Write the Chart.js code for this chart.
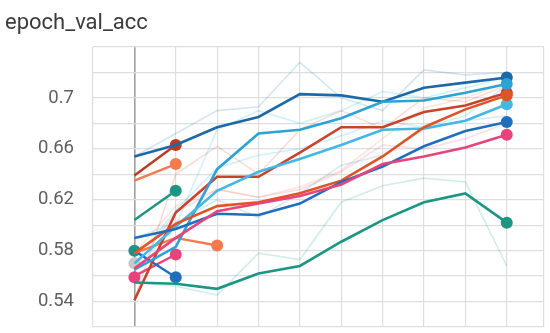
<!DOCTYPE html>
<html>
<head>
<meta charset="utf-8">
<script src="https://cdn.jsdelivr.net/npm/chart.js@4/dist/chart.umd.min.js"></script>
<style>
  html, body { margin: 0; padding: 0; background: #fff; overflow: hidden; }
  canvas { display: block; }
</style>
</head>
<body>
<canvas id="c" width="550" height="333"></canvas>
<script>
// Epoch index for every run
const steps = [0, 1, 2, 3, 4, 5, 6, 7, 8, 9];

// Smoothed validation accuracy per run (full-length runs)
const runBlueTop   = [0.654, 0.663, 0.677, 0.685, 0.703, 0.702, 0.697, 0.708, 0.712, 0.716];
const runCyanA     = [0.565, 0.583, 0.644, 0.672, 0.675, 0.684, 0.697, 0.698, 0.704, 0.711];
const runCyanB     = [0.570, 0.599, 0.627, 0.642, 0.652, 0.663, 0.675, 0.676, 0.682, 0.695];
const runRedA      = [0.541, 0.610, 0.638, 0.638, 0.657, 0.677, 0.677, 0.689, 0.694, 0.704];
const runRedB      = [0.578, 0.601, 0.615, 0.618, 0.625, 0.635, 0.654, 0.677, 0.691, 0.702];
const runBlueLow   = [0.590, 0.597, 0.609, 0.608, 0.617, 0.634, 0.646, 0.662, 0.674, 0.681];
const runPink      = [0.566, 0.590, 0.611, 0.617, 0.623, 0.632, 0.648, 0.654, 0.661, 0.671];
const runTeal      = [0.555, 0.554, 0.550, 0.562, 0.568, 0.587, 0.604, 0.618, 0.625, 0.602];

// Raw (unsmoothed) values, drawn faintly underneath
const rawBlueTop   = [0.654, 0.672, 0.690, 0.693, 0.728, 0.700, 0.690, 0.722, 0.718, 0.720];
const rawCyanA     = [0.565, 0.600, 0.675, 0.690, 0.680, 0.690, 0.705, 0.700, 0.708, 0.716];
const rawCyanB     = [0.570, 0.612, 0.645, 0.655, 0.660, 0.670, 0.682, 0.677, 0.686, 0.710];
const rawRedA      = [0.541, 0.640, 0.662, 0.640, 0.675, 0.690, 0.676, 0.700, 0.697, 0.710];
const rawRedB      = [0.578, 0.615, 0.628, 0.622, 0.630, 0.643, 0.668, 0.692, 0.700, 0.712];
const rawBlueLow   = [0.590, 0.602, 0.620, 0.606, 0.625, 0.647, 0.655, 0.675, 0.682, 0.686];
const rawPink      = [0.566, 0.610, 0.628, 0.622, 0.628, 0.642, 0.663, 0.660, 0.668, 0.680];
const rawTeal      = [0.555, 0.552, 0.545, 0.578, 0.573, 0.618, 0.631, 0.637, 0.634, 0.568];

// Short runs that stopped early
const shortDarkRed = [0.639, 0.663];
const shortOrange  = [0.635, 0.648];
const shortTeal    = [0.604, 0.627];
const shortBlue    = [0.580, 0.559];
const shortOrange2 = [0.578, 0.590, 0.584];
const shortPink    = [0.560, 0.577];
const singleTeal   = [0.580];
const singlePink   = [0.559];
const singleGrey   = [0.570];

// Labelled y ticks
const yTickLabels = [0.54, 0.58, 0.62, 0.66, 0.70];

function pts(values) {
  return values.map((v, i) => ({ x: steps[i], y: v }));
}

function run(values, color, width) {
  const n = values.length;
  return {
    data: pts(values),
    borderColor: color,
    backgroundColor: color,
    borderWidth: width,
    pointRadius: values.map((_, i) => (i === n - 1 ? 6 : 0)),
    pointBorderWidth: 0,
    pointHoverRadius: 0,
    tension: 0,
    order: 1
  };
}

function raw(values, color) {
  return {
    data: pts(values),
    borderColor: color,
    borderWidth: 1.6,
    pointRadius: 0,
    tension: 0,
    order: 3
  };
}

const datasets = [
  raw(rawBlueTop,  'rgba(0,119,187,0.18)'),
  raw(rawCyanA,    'rgba(51,187,238,0.22)'),
  raw(rawCyanB,    'rgba(51,187,238,0.22)'),
  raw(rawRedA,     'rgba(204,51,17,0.16)'),
  raw(rawRedB,     'rgba(238,119,51,0.18)'),
  raw(rawBlueLow,  'rgba(0,119,187,0.16)'),
  raw(rawPink,     'rgba(238,51,119,0.16)'),
  raw(rawTeal,     'rgba(0,153,136,0.18)'),

  run(runTeal,     '#1b9682', 2.6),
  run(runPink,     '#e8437c', 2.6),
  run(runBlueLow,  '#1f6fbd', 2.6),
  run(runRedB,     '#df5426', 2.6),
  run(runCyanB,    '#45b7e4', 2.6),
  run(runCyanA,    '#2ba3d6', 2.6),
  run(runRedA,     '#c8432a', 2.6),
  run(runBlueTop,  '#1d68a6', 2.6),

  run(shortOrange2, '#f57b4e', 2.4),
  run(shortBlue,    '#1f6fbd', 2.4),
  run(shortPink,    '#e8437c', 2.4),
  run(shortTeal,    '#1b9682', 2.4),
  run(shortOrange,  '#f57b4e', 2.4),
  run(shortDarkRed, '#b93a22', 2.4),
  run(singleGrey,   '#c8c8c8', 2.4),
  run(singlePink,   '#e8437c', 2.4),
  run(singleTeal,   '#1b9682', 2.4)
];

// Chart title drawn in the top-left corner
const titlePlugin = {
  id: 'cornerTitle',
  afterDraw(chart) {
    const ctx = chart.ctx;
    ctx.save();
    ctx.font = '22px Roboto, "Noto Sans", Arial, sans-serif';
    ctx.fillStyle = '#3c3c3c';
    ctx.textAlign = 'left';
    ctx.textBaseline = 'alphabetic';
    ctx.fillText('epoch_val_acc', 5, 29);
    ctx.restore();
  }
};

new Chart(document.getElementById('c'), {
  type: 'line',
  data: { datasets },
  plugins: [titlePlugin],
  options: {
    responsive: false,
    animation: false,
    events: [],
    layout: { padding: { top: 47, right: 0, bottom: 3, left: 0 } },
    plugins: {
      legend: { display: false },
      tooltip: { enabled: false },
      title: { display: false }
    },
    scales: {
      x: {
        type: 'linear',
        min: -1,
        max: 9.9,
        ticks: { display: false, stepSize: 1 },
        border: { display: false },
        grid: {
          drawTicks: false,
          color: ctx => (ctx.tick && ctx.tick.value === 0 ? '#a0a0a0' : '#dedede'),
          lineWidth: ctx => (ctx.tick && ctx.tick.value === 0 ? 1.6 : 1.2)
        },
        afterFit(scale) { scale.height = 0; }
      },
      y: {
        min: 0.52,
        max: 0.74,
        ticks: {
          stepSize: 0.02,
          padding: 19,
          color: '#5f5f5f',
          font: { family: 'Roboto, "Noto Sans", Arial, sans-serif', size: 18.5 },
          callback(v) {
            const hit = yTickLabels.find(t => Math.abs(t - v) < 1e-6);
            return hit === undefined ? '' : String(Number(hit.toFixed(2)));
          }
        },
        border: { display: false },
        grid: { drawTicks: false, color: '#dedede', lineWidth: 1.2 },
        afterFit(scale) {
          scale.width = 93;
          scale.paddingTop = 0;
          scale.paddingBottom = 0;
        }
      }
    }
  }
});
</script>
</body>
</html>
